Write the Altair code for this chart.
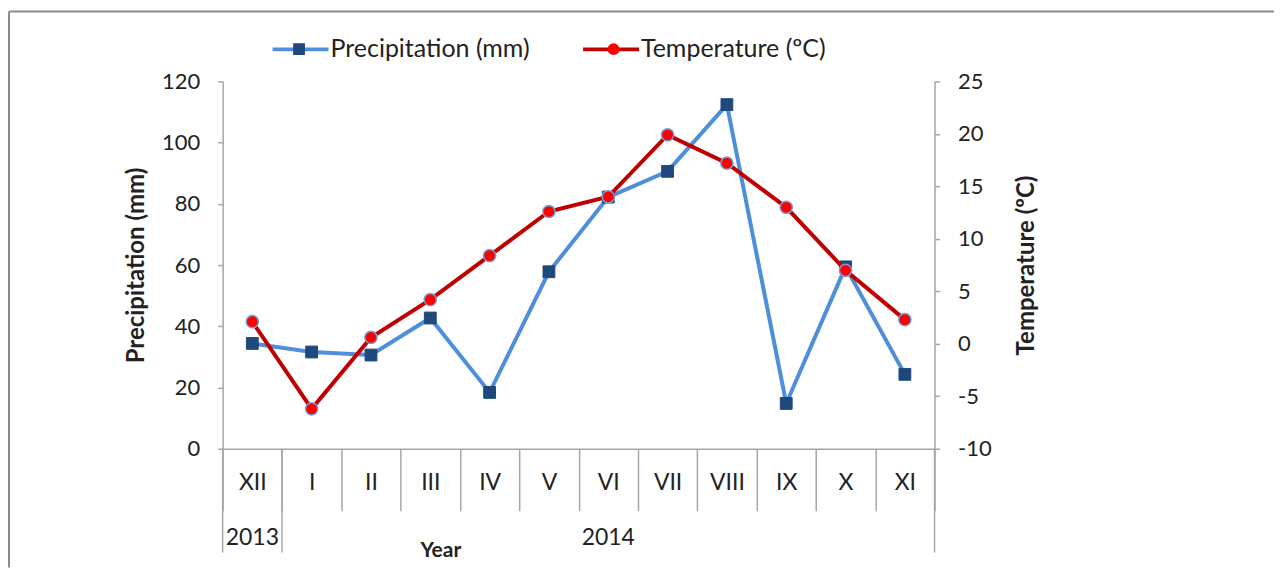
import altair as alt
import pandas as pd

months = ["XII", "I", "II", "III", "IV", "V", "VI", "VII", "VIII", "IX", "X", "XI"]
precip = [34.4, 31.6, 30.6, 42.7, 18.4, 57.8, 82.2, 90.6, 112.4, 14.8, 59.4, 24.3]
temp = [2.1, -6.2, 0.6, 4.2, 8.4, 12.6, 14.0, 19.9, 17.2, 13.0, 7.0, 2.3]
years = ["2013", "2014"]
year_first = ["XII", "I"]
year_last = ["XII", "XI"]
precip_ticks = [0, 20, 40, 60, 80, 100, 120]
temp_ticks = [-10, -5, 0, 5, 10, 15, 20, 25]

P = "Precipitation (mm)"
T = "Temperature (ºC)"
FONT = "Lato"
GRAY = "#A6A6A6"
TXT = "#222222"
W, H = 713, 368

df = pd.DataFrame({"month": months * 2, "series": [P] * 12 + [T] * 12, "value": precip + temp})
df["marker"] = df["series"]
pos = {m: i for i, m in enumerate(months)}
ydf = pd.DataFrame({"year": years,
                    "month": [months[(pos[a] + pos[b]) // 2] for a, b in zip(year_first, year_last)]})
start_df = pd.DataFrame({"month": year_first})
end_df = pd.DataFrame({"month": [year_last[-1]]})

xscale = alt.Scale(type="band", domain=months, paddingInner=0, paddingOuter=0)
xaxis = alt.Axis(title="Year", labelAngle=0, tickBand="extent", tickSize=62, labelPadding=-28,
                 labelBaseline="middle", labelFontSize=23, labelFont=FONT, labelColor=TXT,
                 domainColor=GRAY, tickColor=GRAY, domainWidth=1.5, tickWidth=1.5,
                 titleX=218, titleY=102, titleBaseline="middle", titleFont=FONT,
                 titleFontSize=21, titleFontWeight="bold", titleColor=TXT, grid=False)


def xenc(bp=None):
    if bp is None:
        return alt.X("month:N", scale=xscale, axis=xaxis)
    return alt.X("month:N", scale=xscale, axis=xaxis, bandPosition=bp)


dom = [P, T]
LEG_FS = 25
line_color = alt.Color("series:N", scale=alt.Scale(domain=dom, range=["#4F8FDA", "#C00000"]),
                       legend=alt.Legend(title=None, orient="none", legendX=48, legendY=-62,
                                         direction="horizontal", symbolType="stroke",
                                         symbolSize=3136, symbolStrokeWidth=4, labelFont=FONT,
                                         labelFontSize=LEG_FS, labelColor=TXT, labelOffset=0,
                                         labelLimit=400, columnPadding=45))
# marker overlay legend: no label text, spacing set so markers sit on the centre of each legend line
mk_legend = alt.Legend(title=None, orient="none", legendX=48, legendY=-45, direction="horizontal",
                       symbolSize=140, symbolStrokeWidth=0, symbolOffset=16, labelOffset=0,
                       labelExpr="''", labelFontSize=LEG_FS, columnPadding=274)
# marker scales take their domain from the data (sorted: Precipitation, Temperature)
pt_fill = alt.Fill("marker:N", scale=alt.Scale(range=["#1F497D", "#FF0000"]), legend=mk_legend)
pt_shape = alt.Shape("marker:N", scale=alt.Scale(range=["square", "circle"]), legend=mk_legend)
pt_stroke = alt.Stroke("marker:N", scale=alt.Scale(range=["#1F497D", "#6FA0D8"]), legend=None)

num_fix = "replace(datum.label, '\u2212', '-')"

base = alt.Chart(df)

y_p = alt.Y("value:Q", scale=alt.Scale(domain=[0, 120], nice=False),
            axis=alt.Axis(title=P, values=precip_ticks, grid=False, tickSize=5, labelPadding=18,
                          domainColor=GRAY, tickColor=GRAY, domainWidth=1.5, tickWidth=1.5,
                          labelFont=FONT, labelFontSize=22, labelColor=TXT, titleFont=FONT,
                          titleFontSize=24, titleFontWeight="bold", titleColor=TXT, titlePadding=13))
y_t = alt.Y("value:Q", scale=alt.Scale(domain=[-10, 25], nice=False),
            axis=alt.Axis(title=T, orient="right", values=temp_ticks, grid=False, tickSize=5,
                          labelPadding=18, domainColor=GRAY, tickColor=GRAY, domainWidth=1.5,
                          tickWidth=1.5, labelFont=FONT, labelFontSize=22, labelColor=TXT,
                          labelExpr=num_fix,
                          titleFont=FONT, titleFontSize=24, titleFontWeight="bold", titleColor=TXT,
                          titlePadding=23, titleAngle=270, titleBaseline="top"))

p_base = base.transform_filter(alt.datum.series == P)
t_base = base.transform_filter(alt.datum.series == T)

p_layer = alt.layer(
    p_base.mark_line(strokeWidth=4).encode(x=xenc(), y=y_p, color=line_color),
    p_base.mark_point(filled=True, size=140, opacity=1, strokeWidth=1).encode(
        x=xenc(), y=y_p, fill=pt_fill, shape=pt_shape, stroke=pt_stroke),
)
t_layer = alt.layer(
    t_base.mark_line(strokeWidth=4).encode(x=xenc(), y=y_t, color=line_color),
    t_base.mark_point(filled=True, size=150, opacity=1, strokeWidth=1.5).encode(
        x=xenc(), y=y_t, fill=pt_fill, shape=pt_shape, stroke=pt_stroke),
)

year_text = alt.Chart(ydf).mark_text(font=FONT, fontSize=23, color=TXT, baseline="middle").encode(
    x=xenc(), y=alt.value(H + 89), text="year:N")
year_start = alt.Chart(start_df).mark_rule(color=GRAY, strokeWidth=1.5).encode(
    x=xenc(0), y=alt.value(H), y2=alt.value(H + 104))
year_end = alt.Chart(end_df).mark_rule(color=GRAY, strokeWidth=1.5).encode(
    x=xenc(1), y=alt.value(H), y2=alt.value(H + 104))

one = pd.DataFrame({"a": [0]})
border_left = alt.Chart(one).mark_rule(color="#8C8C8C", strokeWidth=2).encode(
    x=alt.value(-214), y=alt.value(-70), y2=alt.value(487))
border_top = alt.Chart(one).mark_rule(color="#8C8C8C", strokeWidth=2).encode(
    x=alt.value(-214), x2=alt.value(1053), y=alt.value(-70))

chart = alt.layer(
    p_layer, t_layer, year_text, year_start, year_end, border_left, border_top
).resolve_scale(y="independent").properties(
    width=W, height=H, padding={"left": 0, "top": 2, "right": 0, "bottom": 0}
).configure(background="white").configure_view(strokeWidth=0)

chart.save("out.html", embed_options={"renderer": "svg", "actions": False})
